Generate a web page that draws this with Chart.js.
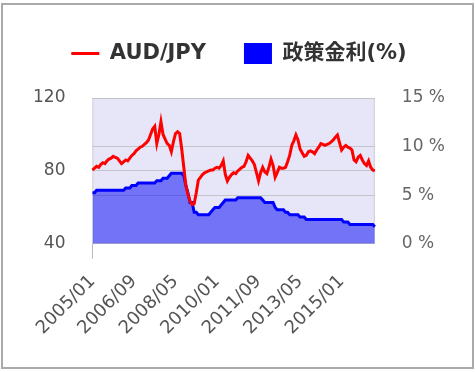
<!DOCTYPE html>
<html>
<head>
<meta charset="utf-8">
<script src="https://cdn.jsdelivr.net/npm/chart.js@4.4.0/dist/chart.umd.min.js"></script>
<style>
html,body{margin:0;padding:0;background:#fff;}
#frame{position:absolute;left:1px;top:3px;width:473px;height:366px;box-sizing:border-box;border:2px solid #aaa;}
canvas{position:absolute;left:0;top:0;}
</style>
</head>
<body>
<div id="frame"></div>
<canvas id="chart" width="476" height="372"></canvas>
<script>
// monthly categories 2005/01 .. 2016/05
const months = [];
for(let y=2005;y<=2016;y++){
  for(let m=1;m<=12;m++){
    if(y===2016 && m>5) break;
    months.push(y+'/'+(m<10?'0'+m:m));
  }
}
const tickLabels = ['2005/01','2006/09','2008/05','2010/01','2011/09','2013/05','2015/01'];

// AUD/JPY (left axis)
const audjpy = [
  80.5,81.5,82.5,82,83.5,84.5,84,85.5,86.5,87,88,87.5,        // 2005
  87,85.5,84,85,86,85.5,87,88.5,89.5,91,92,93,                // 2006
  93.5,94.5,95.5,97,100,103,104.5,95,100,107,100,97.5,        // 2007
  95,94,90.5,96,100.5,101.5,100.5,92,82,72,67,63.5,           // 2008
  61.5,62,68,75,76.5,78,79,79.5,80,80.5,80.5,81.5,            // 2009
  82,81.5,83,85.5,78,74.5,76.5,78,79,78.5,80,81,              // 2010
  82,82.5,85,88.5,87,85.5,83.5,79,74.5,79,82,79.5,            // 2011
  78.5,82,86.5,83,76.5,79,82,81.5,81.5,82,85,88.5,            // 2012
  94,96.5,99.7,97,92,90,88,88.5,90.5,91,90.5,89.5,            // 2013
  91.5,93,95,94.5,94,94.5,95,96,97,98.5,99.7,95.5,            // 2014
  91.5,93,94,93,92.5,91.5,86,85,87.5,88.5,86,84,              // 2015
  83,85.5,82,80.5,80                                          // 2016
];

// policy rate % (right axis)
const policyRate = [
  5.25,5.25,5.5,5.5,5.5,5.5,5.5,5.5,5.5,5.5,5.5,5.5,
  5.5,5.5,5.5,5.5,5.75,5.75,5.75,6,6,6,6.25,6.25,
  6.25,6.25,6.25,6.25,6.25,6.25,6.25,6.5,6.5,6.5,6.75,6.75,
  6.75,7,7.25,7.25,7.25,7.25,7.25,7.25,7,6,5.25,4.25,
  4.25,3.25,3.25,3,3,3,3,3,3,3.25,3.5,3.75,
  3.75,3.75,4,4.25,4.5,4.5,4.5,4.5,4.5,4.5,4.75,4.75,
  4.75,4.75,4.75,4.75,4.75,4.75,4.75,4.75,4.75,4.75,4.5,4.25,
  4.25,4.25,4.25,4.25,3.75,3.5,3.5,3.5,3.5,3.25,3.25,3,
  3,3,3,3,2.75,2.75,2.75,2.5,2.5,2.5,2.5,2.5,
  2.5,2.5,2.5,2.5,2.5,2.5,2.5,2.5,2.5,2.5,2.5,2.5,
  2.5,2.25,2.25,2.25,2,2,2,2,2,2,2,2,
  2,2,2,2,1.75
];

const tickFont = {family:"'DejaVu Sans', sans-serif", size:17};

// lavender plot background + thin frame
const plotBg = {
  id:'plotBg',
  beforeDraw(chart){
    const {ctx, chartArea:a} = chart;
    ctx.save();
    ctx.fillStyle = '#e6e6f8';
    ctx.fillRect(a.left, a.top, a.right-a.left, a.bottom-a.top);
    ctx.strokeStyle = '#cfcfd8';
    ctx.lineWidth = 1;
    ctx.strokeRect(a.left+0.5, a.top+0.5, a.right-a.left-1, a.bottom-a.top-1);
    ctx.restore();
  }
};

// extra room under the legend
const legendGap = {
  id:'legendGap',
  beforeInit(chart){
    const fit = chart.legend.fit;
    chart.legend.fit = function(){
      fit.bind(chart.legend)();
      this.height += 24;
    };
  }
};

new Chart(document.getElementById('chart'), {
  type:'line',
  data:{
    labels: months,
    datasets:[
      {label:'AUD/JPY', data:audjpy, yAxisID:'y', borderColor:'#ff0000', borderWidth:3,
       pointRadius:0, tension:0, fill:false, pointStyle:'line'},
      {label:'政策金利(%)', data:policyRate, yAxisID:'y1', borderColor:'#0000ff', borderWidth:3,
       backgroundColor:'rgba(0,0,245,0.5)', pointRadius:0, tension:0, fill:'start'}
    ]
  },
  options:{
    responsive:false,
    animation:false,
    layout:{padding:{top:5, left:6, right:4, bottom:21}},
    plugins:{
      tooltip:{enabled:false},
      legend:{
        labels:{
          usePointStyle:true,
          pointStyleWidth:28,
          boxHeight:21,
          padding:38,
          color:'#333',
          font:{family:"'DejaVu Sans', 'Noto Sans CJK JP', sans-serif", size:21, weight:'bold'},
          generateLabels(chart){
            const items = Chart.defaults.plugins.legend.labels.generateLabels(chart);
            items[0].pointStyle='line'; items[0].strokeStyle='#ff0000'; items[0].lineWidth=3;
            items[1].pointStyle='rect'; items[1].fillStyle='#0000ff'; items[1].strokeStyle='#0000ff'; items[1].lineWidth=0;
            return items;
          }
        }
      }
    },
    scales:{
      x:{
        ticks:{
          autoSkip:false, minRotation:45, maxRotation:45, padding:12,
          color:'#555', font:{family:"'DejaVu Sans', sans-serif", size:18},
          callback:(v,i)=> tickLabels.includes(months[i]) ? months[i] : null
        },
        grid:{
          drawOnChartArea:false, drawTicks:true, tickLength:15,
          color:ctx => (ctx.tick && tickLabels.includes(months[ctx.index])) ? '#bbbbbb' : 'rgba(0,0,0,0)'
        },
        border:{display:false}
      },
      y:{
        position:'left', min:40, max:120,
        ticks:{stepSize:40, padding:27, color:'#555', font:tickFont},
        grid:{color:'#c4c4cc', drawTicks:false},
        border:{display:false}
      },
      y1:{
        position:'right', min:0, max:15,
        ticks:{stepSize:5, padding:27, color:'#666', font:tickFont, callback:v=>v+' %'},
        grid:{color:'#c4c4cc', drawTicks:false},
        border:{display:false}
      }
    }
  },
  plugins:[plotBg, legendGap]
});
</script>
</body>
</html>
